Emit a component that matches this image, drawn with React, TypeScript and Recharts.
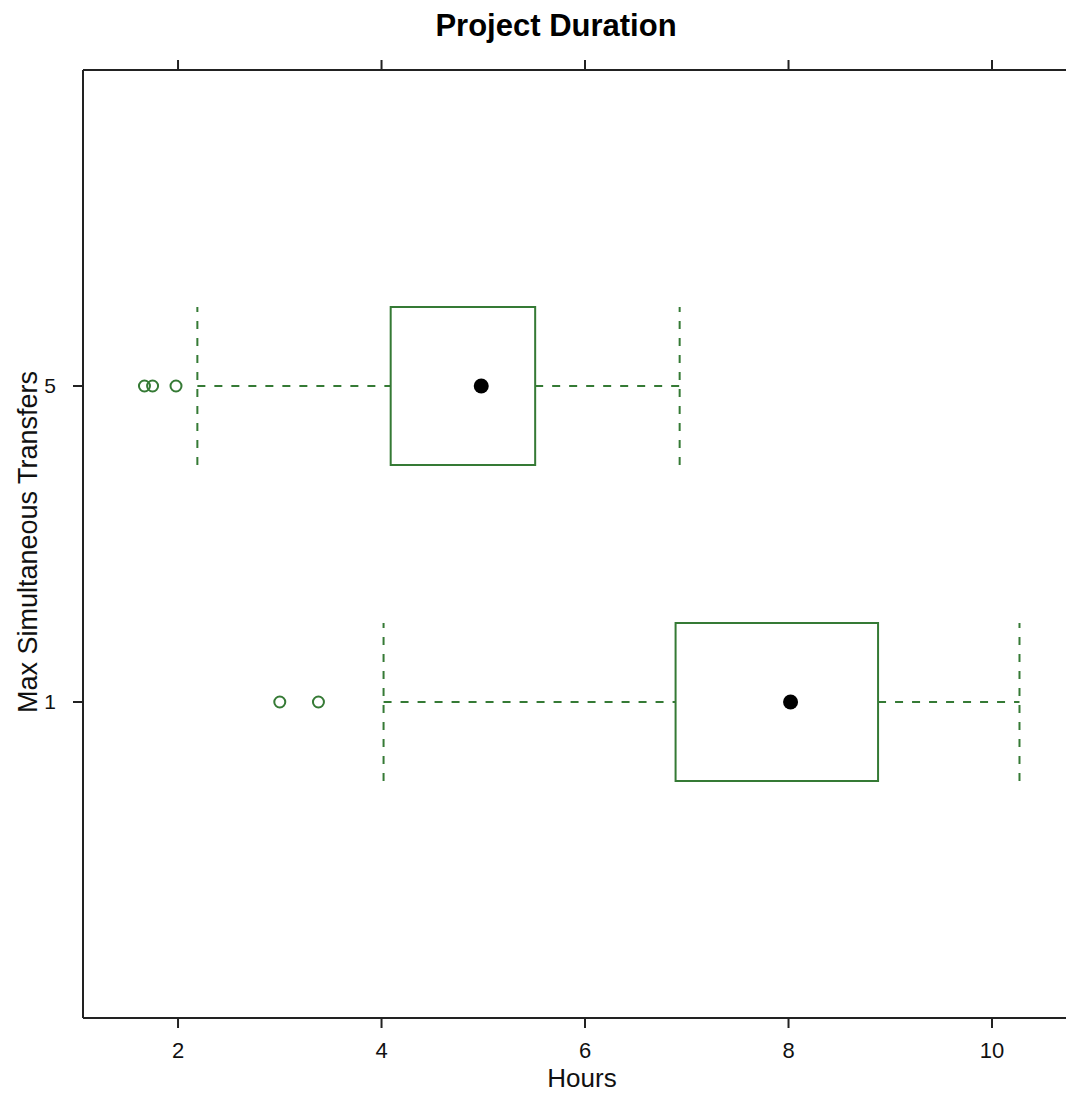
import { ReferenceArea, ReferenceLine, Scatter, ScatterChart, XAxis, YAxis } from "recharts";

// lattice-style horizontal box-and-whisker plot, one row per transfer limit
const categories = ["1", "5"];
const rowPositions = [1, 2];
const lowerWhisker = [4.02, 2.19];
const lowerQuartile = [6.89, 4.09];
const medians = [8.02, 4.98];
const upperQuartile = [8.88, 5.51];
const upperWhisker = [10.27, 6.93];
const outliersRow1 = [3.0, 3.38];
const outliersRow5 = [1.67, 1.75, 1.98];
const xTicks = [2, 4, 6, 8, 10];

const GREEN = "#357a35";
const FONT = "'Liberation Sans', Arial, sans-serif";
const HALF_BOX = 0.25;

const medianPoints = medians.map((x, i) => ({ x, y: rowPositions[i] }));
const outlierPoints = [
  ...outliersRow1.map((x) => ({ x, y: rowPositions[0] })),
  ...outliersRow5.map((x) => ({ x, y: rowPositions[1] })),
];

const BottomTick = (p: any) => (
  <text x={p.x} y={p.y} dy="0.71em" textAnchor="middle" fontSize={22} fontFamily={FONT} fill="#111">
    {p.payload.value}
  </text>
);

const LeftTick = (p: any) => (
  <text x={p.x} y={p.y} dy="0.355em" textAnchor="end" fontSize={21} fontFamily={FONT} fill="#111">
    {categories[rowPositions.indexOf(p.payload.value)] ?? ""}
  </text>
);

const NoLabel = () => <g />;

export default function App() {
  return (
    <div style={{ position: "absolute", left: 0, top: 0, width: 1066, height: 1093, overflow: "hidden", background: "#fff" }}>
      <ScatterChart width={1090} height={1093} margin={{ top: 69, right: 0, bottom: 0, left: 0 }}>
        <XAxis
          type="number"
          dataKey="x"
          domain={[1.066, 10.963]}
          ticks={xTicks}
          height={75}
          tickSize={10}
          tickMargin={14}
          tick={BottomTick}
          stroke="#222"
          strokeWidth={2}
          allowDataOverflow
        />
        <XAxis
          xAxisId="top"
          orientation="top"
          type="number"
          dataKey="x"
          domain={[1.066, 10.963]}
          ticks={xTicks}
          height={1}
          tickSize={10}
          tick={NoLabel}
          stroke="#222"
          strokeWidth={2}
          allowDataOverflow
        />
        <YAxis
          type="number"
          dataKey="y"
          domain={[0, 3]}
          ticks={rowPositions}
          width={83}
          tickSize={10}
          tickMargin={17}
          tick={LeftTick}
          stroke="#222"
          strokeWidth={2}
        />

        {rowPositions.map((y, i) => (
          <ReferenceLine
            key={`wl-${i}`}
            segment={[{ x: lowerWhisker[i], y }, { x: lowerQuartile[i], y }]}
            stroke={GREEN}
            strokeWidth={2}
            strokeDasharray="8 9"
          />
        ))}
        {rowPositions.map((y, i) => (
          <ReferenceLine
            key={`wu-${i}`}
            segment={[{ x: upperQuartile[i], y }, { x: upperWhisker[i], y }]}
            stroke={GREEN}
            strokeWidth={2}
            strokeDasharray="8 9"
          />
        ))}
        {rowPositions.map((y, i) => (
          <ReferenceLine
            key={`cl-${i}`}
            segment={[{ x: lowerWhisker[i], y: y - HALF_BOX }, { x: lowerWhisker[i], y: y + HALF_BOX }]}
            stroke={GREEN}
            strokeWidth={2}
            strokeDasharray="8 9"
          />
        ))}
        {rowPositions.map((y, i) => (
          <ReferenceLine
            key={`cu-${i}`}
            segment={[{ x: upperWhisker[i], y: y - HALF_BOX }, { x: upperWhisker[i], y: y + HALF_BOX }]}
            stroke={GREEN}
            strokeWidth={2}
            strokeDasharray="8 9"
          />
        ))}
        {rowPositions.map((y, i) => (
          <ReferenceArea
            key={`box-${i}`}
            x1={lowerQuartile[i]}
            x2={upperQuartile[i]}
            y1={y - HALF_BOX}
            y2={y + HALF_BOX}
            fill="none"
            stroke={GREEN}
            strokeWidth={2}
            fillOpacity={0}
            strokeOpacity={1}
          />
        ))}

        <Scatter
          data={outlierPoints}
          isAnimationActive={false}
          shape={(p: any) => <circle cx={p.cx} cy={p.cy} r={5.5} fill="none" stroke={GREEN} strokeWidth={2} />}
        />
        <Scatter
          data={medianPoints}
          isAnimationActive={false}
          shape={(p: any) => <circle cx={p.cx} cy={p.cy} r={7.5} fill="#000" />}
        />
      </ScatterChart>

      <div
        style={{
          position: "absolute",
          left: 556,
          top: 25,
          transform: "translate(-50%, -50%)",
          fontFamily: FONT,
          fontWeight: "bold",
          fontSize: 31,
          lineHeight: 1,
          whiteSpace: "nowrap",
          color: "#000",
        }}
      >
        Project Duration
      </div>
      <div
        style={{
          position: "absolute",
          left: 582,
          top: 1078,
          transform: "translate(-50%, -50%)",
          fontFamily: FONT,
          fontSize: 26,
          lineHeight: 1,
          whiteSpace: "nowrap",
          color: "#111",
        }}
      >
        Hours
      </div>
      <div
        style={{
          position: "absolute",
          left: 28,
          top: 542,
          transform: "translate(-50%, -50%) rotate(-90deg)",
          fontFamily: FONT,
          fontSize: 27,
          lineHeight: 1,
          whiteSpace: "nowrap",
          color: "#111",
        }}
      >
        Max Simultaneous Transfers
      </div>
    </div>
  );
}
